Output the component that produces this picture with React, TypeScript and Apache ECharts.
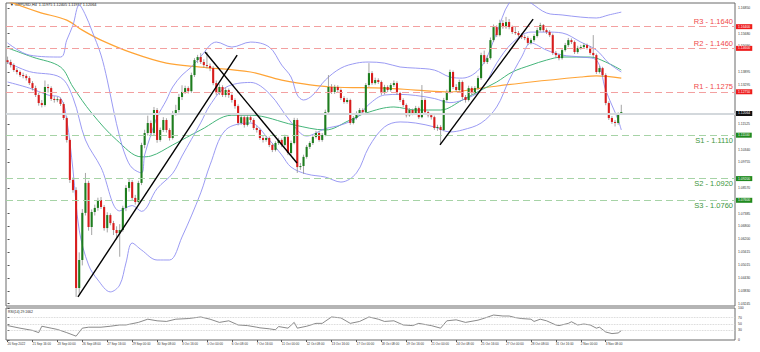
import React, { useEffect, useRef } from "react";
import * as echarts from "echarts";

// ---------- data ----------
const timeLabels = [
  "20 Sep 2022", "21 Sep 16:00", "23 Sep 00:00", "26 Sep 08:00", "27 Sep 16:00",
  "29 Sep 00:00", "30 Sep 08:00", "3 Oct 16:00", "5 Oct 00:00", "6 Oct 08:00",
  "7 Oct 16:00", "11 Oct 00:00", "12 Oct 08:00", "13 Oct 16:00", "17 Oct 00:00",
  "18 Oct 08:00", "19 Oct 16:00", "21 Oct 00:00", "24 Oct 08:00", "25 Oct 16:00",
  "27 Oct 00:00", "28 Oct 08:00", "31 Oct 16:00", "2 Nov 00:00", "3 Nov 08:00",
];
const barsPerLabel = 8;
const totalSlots = 234;

const firstOpen = 1.1445;
const closes = [
  1.1437, 1.1423, 1.1400, 1.1391, 1.1377, 1.1373, 1.1363, 1.1340, 1.1317, 1.1285,
  1.1248, 1.1239, 1.1322, 1.1317, 1.1267, 1.1262, 1.1266, 1.1244, 1.1179, 1.1078,
  1.0894, 1.0847, 1.0396, 1.0525, 1.0742, 1.0880, 1.0677, 1.0746, 1.0765, 1.0801,
  1.0769, 1.0672, 1.0732, 1.0695, 1.0663, 1.0649, 1.0663, 1.0765, 1.0857, 1.0884,
  1.0811, 1.0792, 1.0880, 1.1055, 1.1110, 1.1156, 1.1110, 1.1216, 1.1078, 1.1124,
  1.1170, 1.1124, 1.1087, 1.1202, 1.1216, 1.1276, 1.1299, 1.1317, 1.1303, 1.1377,
  1.1446, 1.1460, 1.1437, 1.1423, 1.1419, 1.1409, 1.1340, 1.1294, 1.1322, 1.1285,
  1.1308, 1.1285, 1.1262, 1.1234, 1.1156, 1.1183, 1.1147, 1.1183, 1.1170, 1.1133,
  1.1124, 1.1087, 1.1078, 1.1087, 1.1055, 1.1032, 1.1064, 1.1078, 1.1055, 1.1092,
  1.1018, 1.1064, 1.1170, 1.0953, 1.0958, 1.1000, 1.1046, 1.1064, 1.1092, 1.1110,
  1.1078, 1.1101, 1.1206, 1.1322, 1.1299, 1.1322, 1.1308, 1.1271, 1.1253, 1.1262,
  1.1156, 1.1179, 1.1202, 1.1216, 1.1206, 1.1331, 1.1386, 1.1340, 1.1354, 1.1345,
  1.1294, 1.1322, 1.1308, 1.1331, 1.1340, 1.1294, 1.1262, 1.1239, 1.1192, 1.1216,
  1.1202, 1.1225, 1.1183, 1.1262, 1.1206, 1.1192, 1.1183, 1.1133, 1.1138, 1.1124,
  1.1262, 1.1299, 1.1391, 1.1322, 1.1308, 1.1345, 1.1276, 1.1262, 1.1317, 1.1294,
  1.1317, 1.1363, 1.1469, 1.1437, 1.1455, 1.1538, 1.1598, 1.1561, 1.1617, 1.1598,
  1.1621, 1.1598, 1.1575, 1.1571, 1.1561, 1.1552, 1.1548, 1.1525, 1.1538, 1.1557,
  1.1584, 1.1607, 1.1584, 1.1575, 1.1561, 1.1479, 1.1469, 1.1455, 1.1492, 1.1515,
  1.1538, 1.1529, 1.1483, 1.1502, 1.1506, 1.1515, 1.1502, 1.1479, 1.1469, 1.1391,
  1.1409, 1.1377, 1.1248, 1.1179, 1.1161, 1.1156, 1.1198, 1.12064,
];
const highs = [
  1.1462, 1.1448, 1.1431, 1.1409, 1.1398, 1.1388, 1.1381, 1.1372, 1.1349, 1.1328,
  1.1296, 1.1262, 1.1352, 1.1335, 1.1325, 1.1279, 1.1276, 1.1274, 1.1252, 1.1186,
  1.1085, 1.0905, 1.0860, 1.0560, 1.0760, 1.0926, 1.0890, 1.0758, 1.0780, 1.0812,
  1.0815, 1.0778, 1.0745, 1.0740, 1.0705, 1.0680, 1.0690, 1.0775, 1.0870, 1.0898,
  1.0893, 1.0825, 1.0890, 1.1065, 1.1125, 1.1190, 1.1168, 1.1230, 1.1225, 1.1135,
  1.1183, 1.1178, 1.1132, 1.1212, 1.1240, 1.1290, 1.1330, 1.1328, 1.1325, 1.1388,
  1.1455, 1.1470, 1.1478, 1.1450, 1.1483, 1.1430, 1.1418, 1.1352, 1.1335, 1.1330,
  1.1320, 1.1315, 1.1292, 1.1270, 1.1242, 1.1195, 1.1190, 1.1196, 1.1192, 1.1178,
  1.1142, 1.1130, 1.1095, 1.1098, 1.1094, 1.1062, 1.1072, 1.1088, 1.1085, 1.1102,
  1.1100, 1.1075, 1.1180, 1.1178, 1.0972, 1.1010, 1.1055, 1.1072, 1.1100, 1.1120,
  1.1118, 1.1110, 1.1218, 1.1377, 1.1335, 1.1332, 1.1330, 1.1315, 1.1280, 1.1272,
  1.1268, 1.1188, 1.1210, 1.1225, 1.1224, 1.1340, 1.1432, 1.1395, 1.1365, 1.1362,
  1.1352, 1.1332, 1.1330, 1.1340, 1.1352, 1.1348, 1.1300, 1.1270, 1.1246, 1.1225,
  1.1222, 1.1235, 1.1232, 1.1331, 1.1270, 1.1212, 1.1200, 1.1190, 1.1148, 1.1146,
  1.1272, 1.1310, 1.1402, 1.1398, 1.1335, 1.1356, 1.1352, 1.1285, 1.1328, 1.1325,
  1.1326, 1.1374, 1.1480, 1.1490, 1.1468, 1.1550, 1.1610, 1.1606, 1.1632, 1.1630,
  1.1645, 1.1635, 1.1605, 1.1600, 1.1580, 1.1570, 1.1562, 1.1556, 1.1546, 1.1565,
  1.1595, 1.1618, 1.1612, 1.1592, 1.1584, 1.1568, 1.1488, 1.1476, 1.1500, 1.1525,
  1.1548, 1.1546, 1.1536, 1.1512, 1.1516, 1.1524, 1.1522, 1.1510, 1.1561, 1.1476,
  1.1420, 1.1415, 1.1385, 1.1256, 1.1188, 1.1170, 1.1205, 1.1240,
];
const lows = [
  1.1428, 1.1412, 1.1392, 1.1380, 1.1368, 1.1362, 1.1352, 1.1331, 1.1306, 1.1276,
  1.1236, 1.1228, 1.1232, 1.1296, 1.1258, 1.1250, 1.1252, 1.1235, 1.1170, 1.1066,
  1.0880, 1.0835, 1.0355, 1.0370, 1.0500, 1.0730, 1.0660, 1.0640, 1.0730, 1.0752,
  1.0760, 1.0660, 1.0652, 1.0685, 1.0640, 1.0620, 1.0540, 1.0655, 1.0750, 1.0840,
  1.0800, 1.0780, 1.0785, 1.0870, 1.1040, 1.1098, 1.1095, 1.1100, 1.1065, 1.1070,
  1.1115, 1.1112, 1.1075, 1.1080, 1.1190, 1.1205, 1.1262, 1.1290, 1.1292, 1.1295,
  1.1368, 1.1432, 1.1428, 1.1410, 1.1408, 1.1395, 1.1330, 1.1284, 1.1285, 1.1276,
  1.1275, 1.1272, 1.1250, 1.1222, 1.1145, 1.1148, 1.1135, 1.1140, 1.1160, 1.1124,
  1.1112, 1.1078, 1.1066, 1.1070, 1.1045, 1.1022, 1.1025, 1.1055, 1.1045, 1.1048,
  1.1008, 1.1010, 1.1058, 1.0926, 1.0940, 1.0922, 1.0992, 1.1036, 1.1055, 1.1085,
  1.1070, 1.1070, 1.1095, 1.1200, 1.1290, 1.1290, 1.1298, 1.1262, 1.1245, 1.1245,
  1.1148, 1.1150, 1.1172, 1.1195, 1.1198, 1.1200, 1.1322, 1.1332, 1.1333, 1.1336,
  1.1285, 1.1288, 1.1298, 1.1300, 1.1322, 1.1285, 1.1253, 1.1230, 1.1182, 1.1185,
  1.1192, 1.1195, 1.1175, 1.1178, 1.1198, 1.1182, 1.1172, 1.1124, 1.1120, 1.1055,
  1.1118, 1.1255, 1.1292, 1.1312, 1.1298, 1.1300, 1.1266, 1.1250, 1.1255, 1.1285,
  1.1286, 1.1308, 1.1355, 1.1428, 1.1428, 1.1448, 1.1530, 1.1552, 1.1555, 1.1590,
  1.1590, 1.1588, 1.1566, 1.1562, 1.1552, 1.1543, 1.1538, 1.1515, 1.1518, 1.1530,
  1.1550, 1.1578, 1.1575, 1.1566, 1.1552, 1.1470, 1.1458, 1.1445, 1.1448, 1.1485,
  1.1506, 1.1520, 1.1474, 1.1475, 1.1494, 1.1498, 1.1494, 1.1470, 1.1460, 1.1382,
  1.1384, 1.1368, 1.1238, 1.1170, 1.1152, 1.1140, 1.1148, 1.1194,
];

// moving averages and Bollinger bands: [bar index, price]
const ma200 = [
  [0, 1.1718], [10, 1.1667], [19, 1.1630], [24, 1.1584], [30, 1.1538], [40, 1.1479],
  [51, 1.1432], [62, 1.1414], [78, 1.1391], [88, 1.1354], [104, 1.1322], [121, 1.1317],
  [131, 1.1308], [142, 1.1299], [152, 1.1317], [168, 1.1345], [184, 1.1368], [189, 1.1373],
  [197, 1.1363],
];
const ma50 = [
  [0, 1.1502], [8, 1.1460], [17, 1.1414], [21, 1.1322], [27, 1.1202], [35, 1.1078],
  [43, 1.1000], [46, 1.1004], [53, 1.1055], [62, 1.1124], [72, 1.1192], [78, 1.1192],
  [92, 1.1147], [102, 1.1124], [110, 1.1170], [115, 1.1202], [124, 1.1230], [131, 1.1216],
  [139, 1.1216], [146, 1.1262], [152, 1.1308], [157, 1.1345], [162, 1.1391], [168, 1.1423],
  [173, 1.1446], [178, 1.1460], [187, 1.1460], [192, 1.1437], [197, 1.1400],
];
const bbUpper = [
  [0, 1.1525], [7, 1.1469], [17, 1.1460], [19, 1.1538], [21, 1.1607], [23, 1.1700],
  [25, 1.1654], [27, 1.1584], [30, 1.1469], [32, 1.1354], [34, 1.1216], [36, 1.1092],
  [38, 1.1000], [40, 1.0949], [43, 1.0926], [44, 1.1009], [46, 1.1101], [48, 1.1183],
  [51, 1.1262], [53, 1.1322], [56, 1.1377], [59, 1.1414], [63, 1.1479], [65, 1.1515],
  [67, 1.1529], [72, 1.1506], [78, 1.1529], [84, 1.1506], [88, 1.1423], [91, 1.1368],
  [93, 1.1285], [95, 1.1262], [98, 1.1285], [102, 1.1354], [107, 1.1409], [112, 1.1432],
  [116, 1.1437], [121, 1.1432], [126, 1.1414], [131, 1.1409], [137, 1.1400], [142, 1.1368],
  [146, 1.1363], [152, 1.1414], [157, 1.1571], [161, 1.1709], [165, 1.1735], [168, 1.1709],
  [173, 1.1663], [178, 1.1654], [184, 1.1644], [189, 1.1640], [193, 1.1654], [197, 1.1667],
];
const bbMiddle = [
  [0, 1.1435], [7, 1.1393], [17, 1.1366], [21, 1.1273], [25, 1.1078], [30, 1.0951],
  [36, 1.0751], [40, 1.0776], [43, 1.0749], [48, 1.0854], [53, 1.0924], [56, 1.1004],
  [62, 1.1157], [65, 1.1239], [70, 1.1320], [78, 1.1343], [84, 1.1292], [91, 1.1160],
  [96, 1.1096], [102, 1.1130], [107, 1.1147], [112, 1.1179], [116, 1.1242], [121, 1.1285],
  [126, 1.1288], [131, 1.1283], [137, 1.1269], [142, 1.1250], [146, 1.1262], [152, 1.1308],
  [157, 1.1432], [162, 1.1525], [168, 1.1575], [173, 1.1575], [178, 1.1571], [184, 1.1529],
  [189, 1.1492], [193, 1.1432], [197, 1.1391],
];
const bbLower = [
  [0, 1.1345], [7, 1.1317], [13, 1.1285], [17, 1.1271], [19, 1.1170], [21, 1.0940],
  [23, 1.0663], [26, 1.0502], [29, 1.0433], [33, 1.0378], [36, 1.0410], [38, 1.0511],
  [40, 1.0603], [43, 1.0571], [48, 1.0525], [52, 1.0525], [56, 1.0631], [62, 1.0834],
  [65, 1.0963], [70, 1.1124], [78, 1.1156], [84, 1.1078], [88, 1.1009], [91, 1.0953],
  [96, 1.0921], [102, 1.0907], [107, 1.0884], [112, 1.0926], [116, 1.1046], [121, 1.1138],
  [126, 1.1161], [131, 1.1156], [137, 1.1138], [142, 1.1115], [146, 1.1124], [152, 1.1156],
  [157, 1.1230], [161, 1.1354], [165, 1.1460], [168, 1.1525], [173, 1.1492], [178, 1.1469],
  [184, 1.1460], [189, 1.1446], [192, 1.1308], [196, 1.1170], [197, 1.1124],
];

// hand-drawn trend lines: [bar index, price] start and end
const trendUp1 = [[22.6, 1.0355], [73.7, 1.1469]];
const trendDown = [[63.4, 1.1483], [92.9, 1.0972]];
const trendUp2 = [[138.8, 1.1055], [168.7, 1.1635]];

const levelNames = ["R3", "R2", "R1", "S1", "S2", "S3"];
const levelValues = [1.164, 1.146, 1.1275, 1.111, 1.092, 1.076];
const currentPrice = 1.12064;

// price scale labels that are not hidden behind the level boxes
const priceTicks = [
  1.03245, 1.0383, 1.0443, 1.05015, 1.05615, 1.062, 1.068, 1.07385, 1.07985, 1.0857,
  1.09755, 1.1034, 1.11525, 1.13295, 1.13895, 1.1509, 1.1568, 1.1685,
];
const priceMin = 1.0313;
const priceMax = 1.1709;

const rsi = [
  [0, 45], [4, 37], [8, 30], [10, 23], [11, 43], [14, 37], [16, 33], [19, 23], [22, 12],
  [24, 37], [26, 40], [30, 40], [33, 43], [36, 47], [38, 47], [42, 55], [45, 65], [48, 60],
  [51, 58], [54, 65], [58, 67], [62, 72], [65, 65], [68, 55], [71, 60], [74, 47], [77, 45],
  [80, 40], [81, 38], [84, 35], [86, 32], [87, 42], [90, 37], [92, 55], [93, 37], [96, 43],
  [99, 52], [101, 52], [104, 72], [107, 69], [110, 52], [113, 58], [116, 72], [119, 65],
  [121, 58], [124, 60], [127, 47], [130, 45], [132, 52], [136, 45], [139, 37], [141, 60],
  [144, 63], [147, 55], [151, 62], [153, 68], [156, 78], [159, 75], [161, 75], [163, 70],
  [165, 67], [168, 65], [169, 58], [171, 65], [173, 60], [176, 47], [177, 45], [180, 52],
  [181, 57], [183, 47], [185, 50], [187, 47], [189, 37], [190, 40], [192, 25], [194, 20],
  [196, 22], [197, 29.1662],
];
const rsiLevels = [70, 50, 30];
const rsiTicks = [0, 30, 50, 70, 100];

export default function App() {
  const ref = useRef<HTMLDivElement>(null);

  useEffect(() => {
    if (!ref.current) return;
    const chart = echarts.init(ref.current, null, { renderer: "svg" });

    const candleData = closes.map((c, i) => [i, i === 0 ? firstOpen : closes[i - 1], c, lows[i], highs[i]]);
    const xLabelIdx = timeLabels.map((_, k) => k * barsPerLabel);
    const tinyFont = "Liberation Sans, Arial, sans-serif";
    const isRes = (k: number) => levelNames[k].startsWith("R");

    const levelLines = levelValues.map((v, k) => ({
      yAxis: v,
      lineStyle: { color: isRes(k) ? "#f3a0a0" : "#a6d3a6", type: [7, 4], width: 1 },
      label: {
        show: true,
        position: isRes(k) ? "insideEndTop" : "insideEndBottom",
        formatter: `${levelNames[k]} - ${v.toFixed(4)}`,
        color: isRes(k) ? "#f04a4a" : "#3c963c",
        fontSize: 7.5,
        fontFamily: tinyFont,
        distance: [2, 1],
      },
    }));
    const boxItems = [
      ...levelValues.map((v, k) => ({ v, bg: isRes(k) ? "#ee1c1c" : "#1f8a1f" })),
      { v: currentPrice, bg: "#111111" },
    ].map(({ v, bg }) => ({
      yAxis: v,
      label: {
        show: true,
        position: "end",
        formatter: v.toFixed(5),
        color: "#ffffff",
        backgroundColor: bg,
        fontSize: 3.4,
        fontFamily: tinyFont,
        padding: [1, 2, 1, 2],
        distance: 1,
      },
    }));

    const lineSeries = (data: number[][], color: string, width: number, z = 3) => ({
      type: "line",
      xAxisIndex: 0,
      yAxisIndex: 0,
      data,
      showSymbol: false,
      symbol: "none",
      smooth: 0.35,
      silent: true,
      z,
      lineStyle: { color, width },
    });

    chart.setOption({
      animation: false,
      backgroundColor: "#ffffff",
      grid: [
        { left: 6, right: 25, top: 3, height: 303, show: true, borderColor: "#6a6a6a", borderWidth: 1 },
        { left: 6, right: 25, top: 308, height: 32, show: true, borderColor: "#6a6a6a", borderWidth: 1 },
      ],
      xAxis: [
        {
          type: "value", gridIndex: 0, min: -0.5, max: totalSlots - 0.5,
          axisLine: { show: false }, axisTick: { show: false }, axisLabel: { show: false }, splitLine: { show: false },
        },
        {
          type: "value", gridIndex: 1, min: -0.5, max: totalSlots - 0.5,
          axisLine: { show: false },
          axisTick: { show: true, customValues: xLabelIdx, length: 2, lineStyle: { color: "#555" } },
          axisLabel: {
            show: true, customValues: xLabelIdx,
            formatter: (v: number) => timeLabels[Math.round(v / barsPerLabel)] ?? "",
            fontSize: 3.1, fontFamily: tinyFont, color: "#333", align: "left", margin: 2,
          },
          splitLine: { show: false },
        },
      ],
      yAxis: [
        {
          type: "value", gridIndex: 0, position: "right", min: priceMin, max: priceMax,
          axisLine: { show: false },
          axisTick: { show: true, customValues: priceTicks, length: 2, lineStyle: { color: "#555" } },
          axisLabel: {
            show: true, customValues: priceTicks, formatter: (v: number) => v.toFixed(5),
            fontSize: 3.4, fontFamily: tinyFont, color: "#333", margin: 3,
          },
          splitLine: { show: false },
        },
        {
          type: "value", gridIndex: 1, position: "right", min: 0, max: 100,
          axisLine: { show: false },
          axisTick: { show: true, customValues: rsiTicks, length: 2, lineStyle: { color: "#555" } },
          axisLabel: {
            show: true, customValues: rsiTicks, fontSize: 3.4, fontFamily: tinyFont, color: "#333", margin: 3,
          },
          splitLine: { show: false },
        },
      ],
      graphic: [
        {
          type: "text", left: 10, top: 3,
          style: { text: "▼ GBPUSD,H4  1.11975 1.12405 1.11937 1.12064", fontSize: 3.8, fontFamily: tinyFont, fill: "#222" },
        },
        {
          type: "text", left: 8, top: 310,
          style: { text: "RSI(14) 29.1662", fontSize: 3.4, fontFamily: tinyFont, fill: "#222" },
        },
      ],
      series: [
        {
          type: "line",
          xAxisIndex: 0, yAxisIndex: 0,
          data: [[0, currentPrice]],
          symbol: "none",
          lineStyle: { opacity: 0 },
          silent: true,
          z: 1,
          markLine: {
            silent: true,
            symbol: ["none", "none"],
            animation: false,
            data: [
              {
                yAxis: currentPrice,
                lineStyle: { color: "#d3d8dc", type: "solid", width: 2 },
                label: { show: false },
              },
              ...levelLines,
            ],
          },
        },
        {
          type: "line",
          xAxisIndex: 0, yAxisIndex: 0,
          data: [[0, currentPrice]],
          symbol: "none",
          lineStyle: { color: "rgba(0,0,0,0)", width: 0 },
          silent: true,
          z: 8,
          markLine: {
            silent: true,
            symbol: ["none", "none"],
            animation: false,
            lineStyle: { color: "rgba(0,0,0,0)", width: 0, type: "solid" },
            data: boxItems,
          },
        },
        lineSeries(ma200, "#ffa436", 1.2),
        lineSeries(ma50, "#45b57a", 1),
        lineSeries(bbUpper, "#8f8ff2", 0.9),
        lineSeries(bbMiddle, "#8f8ff2", 0.9),
        lineSeries(bbLower, "#8f8ff2", 0.9),
        {
          type: "custom",
          xAxisIndex: 0, yAxisIndex: 0,
          data: candleData,
          dimensions: ["i", "open", "close", "low", "high"],
          encode: { x: 0, y: [1, 2, 3, 4] },
          clip: true,
          silent: true,
          z: 4,
          renderItem: (_params: any, api: any) => {
            const i = api.value(0);
            const o = api.value(1);
            const c = api.value(2);
            const l = api.value(3);
            const h = api.value(4);
            const pO = api.coord([i, o]);
            const yC = api.coord([i, c])[1];
            const yL = api.coord([i, l])[1];
            const yH = api.coord([i, h])[1];
            const x = pO[0];
            const yO = pO[1];
            const up = c >= o;
            const top = Math.min(yO, yC);
            const hgt = Math.max(Math.abs(yO - yC), 1);
            return {
              type: "group",
              children: [
                { type: "line", shape: { x1: x, y1: yH, x2: x, y2: yL }, style: { stroke: "#8e8e8e", lineWidth: 0.8 } },
                { type: "rect", shape: { x: x - 1.05, y: top, width: 2.1, height: hgt }, style: { fill: up ? "#1e7d1e" : "#d81c1c" } },
              ],
            };
          },
        },
        ...[trendUp1, trendDown, trendUp2].map((d) => ({
          type: "line",
          xAxisIndex: 0, yAxisIndex: 0,
          data: d,
          symbol: "none",
          silent: true,
          z: 6,
          lineStyle: { color: "#000000", width: 1.4 },
        })),
        {
          type: "line",
          xAxisIndex: 1, yAxisIndex: 1,
          data: rsi,
          symbol: "none",
          silent: true,
          lineStyle: { color: "#6c6c6c", width: 0.8 },
          markLine: {
            silent: true,
            symbol: ["none", "none"],
            label: { show: false },
            lineStyle: { color: "#c9c9c9", type: "dotted", width: 0.8 },
            data: rsiLevels.map((v) => ({ yAxis: v })),
          },
        },
      ],
    });

    return () => chart.dispose();
  }, []);

  return (
    <div
      ref={ref}
      style={{ position: "fixed", left: 0, top: 0, width: 760, height: 352, background: "#fff" }}
    />
  );
}
